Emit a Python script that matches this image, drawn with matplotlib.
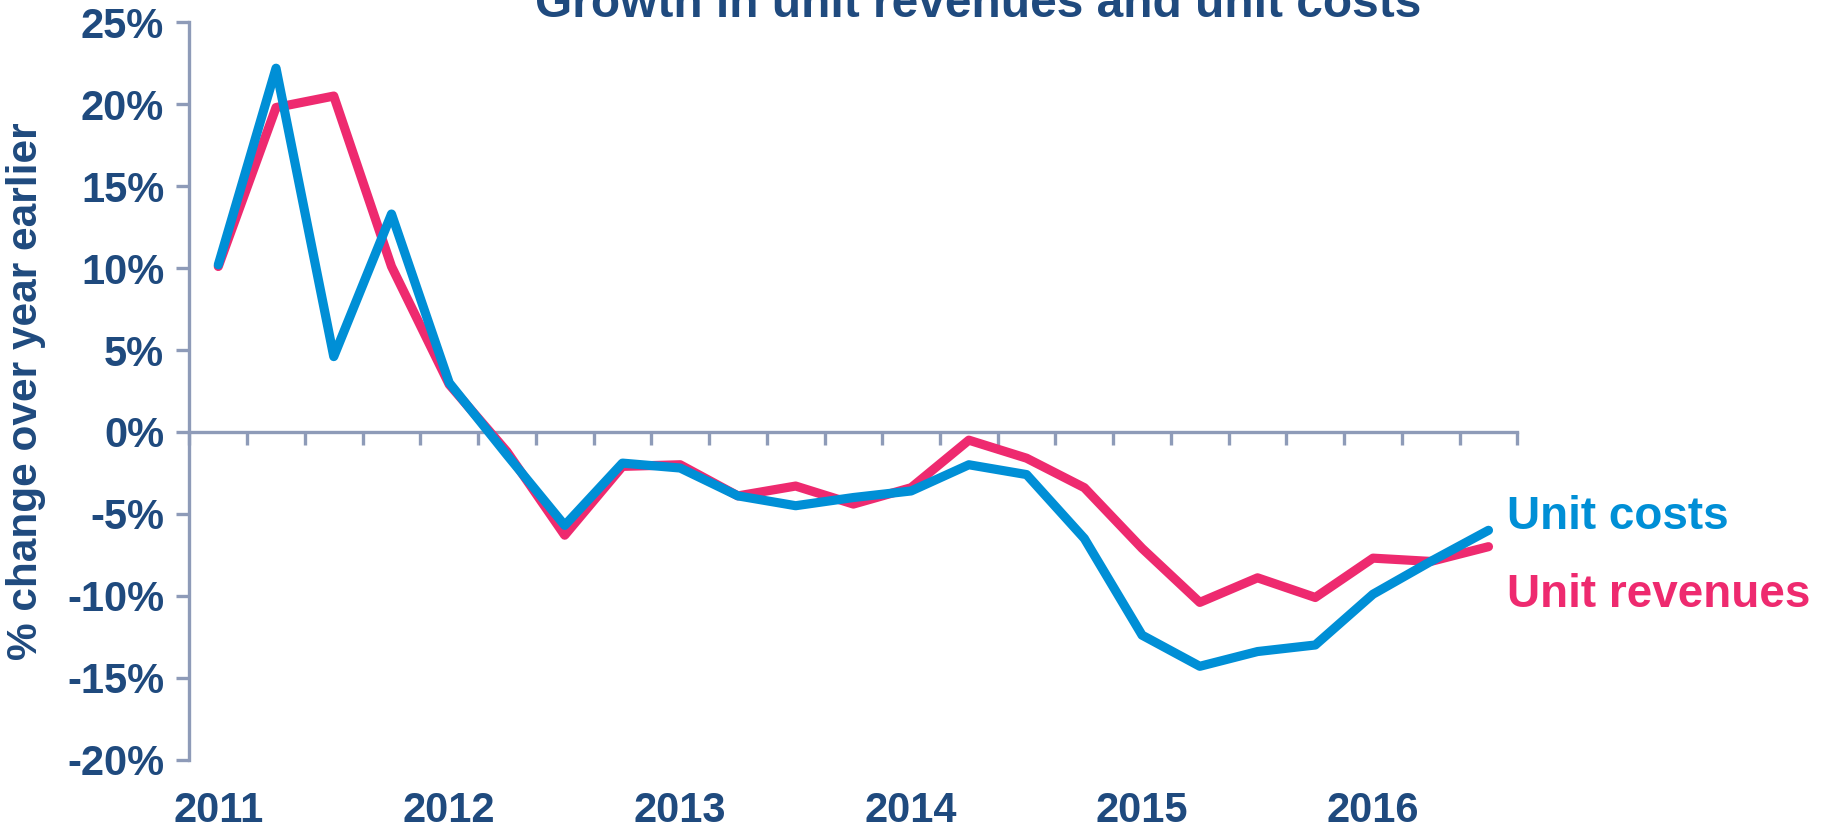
import numpy as np
import matplotlib
matplotlib.use('Agg')
import matplotlib.pyplot as plt
from matplotlib import transforms

plt.rcParams['font.family'] = ['Liberation Sans', 'DejaVu Sans']
plt.rcParams['font.weight'] = 'bold'

# Quarterly data, 2011 Q1 - 2016 Q3 (% change over year earlier)
years = ['2011', '2012', '2013', '2014', '2015', '2016']
unit_costs = [10.2, 22.2, 4.6, 13.3, 3.0, -1.4, -5.7, -1.9, -2.2, -3.9, -4.5, -4.0,
              -3.6, -2.0, -2.6, -6.5, -12.4, -14.3, -13.4, -13.0, -9.9, -7.9, -6.0]
unit_revenues = [10.1, 19.8, 20.5, 10.1, 2.9, -1.2, -6.3, -2.1, -2.0, -3.9, -3.3, -4.4,
                 -3.4, -0.5, -1.6, -3.4, -7.1, -10.4, -8.9, -10.1, -7.7, -7.9, -7.0]
y_ticks = [-20, -15, -10, -5, 0, 5, 10, 15, 20, 25]

navy = '#1F4A7E'
blue = '#008FD6'
pink = '#EE2A6F'
axis_col = '#8E9BB8'

fig = plt.figure(figsize=(18.39, 8.33), dpi=100)
ax = fig.add_axes([0.1030, 0.0880, 0.7221, 0.8852])

x = np.arange(len(unit_costs))
ax.plot(x, unit_revenues, color=pink, lw=6.6, solid_joinstyle='round',
        solid_capstyle='round', zorder=3)
ax.plot(x, unit_costs, color=blue, lw=6.6, solid_joinstyle='round',
        solid_capstyle='round', zorder=4)

ax.set_xlim(-0.5, len(x) - 0.5)
ax.set_ylim(-20, 25)

for s in ['top', 'right']:
    ax.spines[s].set_visible(False)
ax.spines['left'].set_color(axis_col)
ax.spines['left'].set_linewidth(2.4)
ax.spines['bottom'].set_position(('data', 0))
ax.spines['bottom'].set_color(axis_col)
ax.spines['bottom'].set_linewidth(2.4)

ax.set_yticks(y_ticks)
ax.set_yticklabels([f'{v}%' for v in y_ticks])
ax.tick_params(axis='y', direction='out', length=9.7, width=2.4, color=axis_col,
               labelsize=30, labelcolor=navy, pad=8.5)
ax.set_xticks(np.arange(len(x) + 1) - 0.5)
ax.set_xticklabels([])
ax.tick_params(axis='x', direction='out', length=9.2, width=2.4, color=axis_col)

# year labels under the first quarter of each year
trans = transforms.blended_transform_factory(ax.transData, ax.transAxes)
for k, yr in enumerate(years):
    ax.text(4 * k, -0.07, yr, transform=trans, ha='center', va='center',
            fontsize=30, color=navy, fontweight='bold')

ax.set_ylabel('% change over year earlier', fontsize=30.5, color=navy,
              fontweight='bold')
ax.yaxis.set_label_coords(-0.108, 0.5)

# series labels at the end of the lines
fig.text(1507 / 1839, 1 - 517 / 833, 'Unit costs', fontsize=33, color=blue,
         fontweight='bold', ha='left', va='center')
fig.text(1507 / 1839, 1 - 595 / 833, 'Unit revenues', fontsize=33, color=pink,
         fontweight='bold', ha='left', va='center')

fig.text(978 / 1839, 1 - 17 / 833, 'Growth in unit revenues and unit costs',
         fontsize=34.5, color=navy, fontweight='bold', ha='center', va='baseline')

fig.savefig('out.png', dpi=100)
